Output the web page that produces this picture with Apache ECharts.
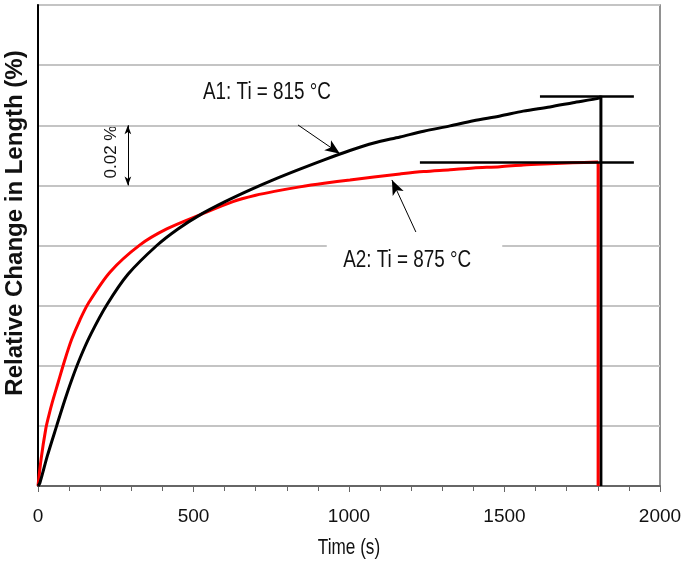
<!DOCTYPE html>
<html>
<head>
<meta charset="utf-8">
<script src="https://cdn.jsdelivr.net/npm/echarts@6/dist/echarts.min.js"></script>
<style>
html,body{margin:0;padding:0;background:#fff;}
#chart{width:685px;height:566px;}
</style>
</head>
<body>
<div id="chart"></div>
<script>
// ---- data ----
// A1: Ti = 815 °C (black)
const timeA1 = [0, 6, 30, 60, 85, 108, 135, 170, 221, 290, 382, 450, 521, 600, 682, 760, 842, 920, 1003, 1080, 1164, 1240, 1325, 1400, 1486, 1560, 1646, 1720, 1807, 1810, 1810];
const valueA1 = [0, 0.001, 0.010, 0.020, 0.0282, 0.0352, 0.0425, 0.0505, 0.0602, 0.0705, 0.080, 0.0855, 0.0902, 0.0945, 0.0985, 0.1020, 0.1054, 0.1085, 0.1116, 0.1141, 0.1161, 0.1180, 0.1198, 0.1215, 0.1231, 0.1247, 0.1261, 0.1275, 0.1291, 0.1298, 0];
// A2: Ti = 875 °C (red)
const timeA2 = [0, 10, 25, 35, 45, 65, 85, 108, 135, 162, 232, 328, 414, 521, 627, 700, 760, 842, 920, 1003, 1080, 1164, 1240, 1325, 1400, 1486, 1560, 1646, 1720, 1801, 1801];
const valueA2 = [0, 0.009, 0.019, 0.0235, 0.0275, 0.0345, 0.0415, 0.0487, 0.0553, 0.0608, 0.0712, 0.0802, 0.0855, 0.0902, 0.0946, 0.0967, 0.0980, 0.0995, 0.1007, 0.1018, 0.1028, 0.1038, 0.1046, 0.1052, 0.1058, 0.1062, 0.1068, 0.1072, 0.1075, 0.1078, 0];
// annotation levels
const levelA1 = 0.1298, levelA1From = 1614, levelTo = 1916;
const levelA2 = 0.1078, levelA2From = 1228;
const arrowA1 = [[836, 0.1201], [971, 0.1105]];
const arrowA2 = [[1215, 0.0845], [1138, 0.1018]];
const scaleArrow = [[289, 0.12], [289, 0.10]];
const xTicks = {min: 0, max: 2000, interval: 500};
const yTicks = {min: 0, max: 0.16, interval: 0.02};

const pairs = (t, v) => t.map((x, i) => [x, v[i]]);
const sans = "'Liberation Sans', Arial, sans-serif";
const pA1 = pairs(timeA1, valueA1), pA2 = pairs(timeA2, valueA2);
// smooth rising part and the straight final drop (the last two readings)
const curveA1 = pA1.slice(0, pA1.length - 1), dropA1 = pA1.slice(pA1.length - 2);
const curveA2 = pA2.slice(0, pA2.length - 1), dropA2 = pA2.slice(pA2.length - 2);

const chart = echarts.init(document.getElementById('chart'));
chart.setOption({
  animation: false,
  grid: {left: 38, right: 25, top: 5, bottom: 80, show: true, borderColor: '#6e6e6e', borderWidth: 1.5,
         containLabel: false, outerBoundsMode: 'none'},
  xAxis: {
    type: 'value', min: xTicks.min, max: xTicks.max, interval: xTicks.interval,
    axisLine: {lineStyle: {color: '#666', width: 2}},
    axisTick: {show: true, length: 6, lineStyle: {color: '#666', width: 1}},
    minorTick: {show: true, splitNumber: 5, length: 5, lineStyle: {color: '#666', width: 1}},
    axisLabel: {fontFamily: sans, fontSize: 19, color: '#111', margin: 21, formatter: v => String(v)},
    splitLine: {show: false}
  },
  yAxis: {
    type: 'value', min: yTicks.min, max: yTicks.max, interval: yTicks.interval,
    axisLabel: {show: false}, axisTick: {show: false},
    axisLine: {show: true, lineStyle: {color: '#000', width: 2}},
    splitLine: {show: true, lineStyle: {color: '#c4c4c4', width: 2}}
  },
  series: [
    {name: 'A2', type: 'line', data: curveA2, showSymbol: false, smooth: 0.3,
     lineStyle: {color: '#ff0000', width: 3}, itemStyle: {color: '#ff0000'}, z: 3},
    {name: 'A2 drop', type: 'line', data: dropA2, showSymbol: false,
     lineStyle: {color: '#ff0000', width: 3}, itemStyle: {color: '#ff0000'}, z: 3},
    {name: 'A1 drop', type: 'line', data: dropA1, showSymbol: false,
     lineStyle: {color: '#000', width: 3}, itemStyle: {color: '#000'}, z: 2},
    {
      name: 'A1', type: 'line', data: curveA1, showSymbol: false, smooth: 0.3,
      lineStyle: {color: '#000', width: 3}, itemStyle: {color: '#000'}, z: 4,
      markLine: {
        silent: true, animation: false, label: {show: false},
        data: [
          [{coord: [levelA1From, levelA1], symbol: 'none', lineStyle: {color: '#000', width: 2.5, type: 'solid'}},
           {coord: [levelTo, levelA1], symbol: 'none'}],
          [{coord: [levelA2From, levelA2], symbol: 'none', lineStyle: {color: '#000', width: 2.5, type: 'solid'}},
           {coord: [levelTo, levelA2], symbol: 'none'}],
          [{coord: arrowA1[0], symbol: 'none', lineStyle: {color: '#000', width: 1, type: 'solid'}},
           {coord: arrowA1[1], symbol: 'arrow', symbolSize: [9, 15]}],
          [{coord: arrowA2[0], symbol: 'none', lineStyle: {color: '#000', width: 1, type: 'solid'}},
           {coord: arrowA2[1], symbol: 'arrow', symbolSize: [9, 15]}],
          [{coord: scaleArrow[0], symbol: 'arrow', symbolSize: [5, 9], lineStyle: {color: '#000', width: 1, type: 'solid'}},
           {coord: scaleArrow[1], symbol: 'arrow', symbolSize: [5, 9]}]
        ]
      }
    }
  ],
  graphic: [
    {type: 'text', x: 15, y: 223, rotation: Math.PI / 2,
     style: {text: 'Relative Change in Length (%)', font: "bold 24px " + sans, fill: '#111', align: 'center', verticalAlign: 'middle'}},
    {type: 'text', x: 111, y: 152, rotation: Math.PI / 2,
     style: {text: '0.02 %', font: "17px " + sans, fill: '#111', align: 'center', verticalAlign: 'middle'}},
    {type: 'text', x: 267, y: 93, z: 10, scaleX: 0.82,
     style: {text: 'A1: Ti = 815 °C', font: "23px " + sans, fill: '#111', align: 'center', verticalAlign: 'middle'}},
    {type: 'text', x: 414.5, y: 261, z: 10, scaleX: 0.82,
     style: {text: 'A2: Ti = 875 °C', font: "23px " + sans, fill: '#111', align: 'center', verticalAlign: 'middle',
             backgroundColor: '#fff', padding: [9, 38, 4, 20]}},
    {type: 'text', x: 349, y: 548, z: 10, scaleX: 0.78,
     style: {text: 'Time (s)', font: "22px " + sans, fill: '#111', align: 'center', verticalAlign: 'middle'}}
  ]
});
</script>
</body>
</html>
